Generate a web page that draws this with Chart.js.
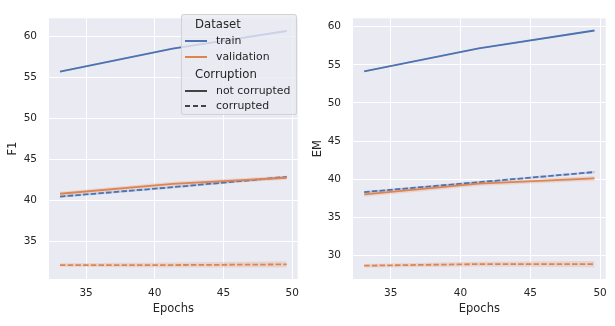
<!DOCTYPE html>
<html><head><meta charset="utf-8">
<script src="https://cdn.jsdelivr.net/npm/chart.js@4.4.1/dist/chart.umd.min.js"></script>
<style>
html,body{margin:0;padding:0;background:#fff;}
body{width:615px;height:326px;overflow:hidden;position:relative;font-family:"DejaVu Sans",sans-serif;}
.box{position:absolute;top:0;height:326px;}
#legend{position:absolute;left:181px;top:14px;width:116px;height:101px;box-sizing:border-box;background:rgba(234,234,242,0.8);border:1px solid rgba(204,204,204,0.8);border-radius:3px;color:#262626;}
#legend .t{position:absolute;font-size:11.7px;line-height:14px;white-space:nowrap;}
#legend .e{position:absolute;font-size:10.9px;line-height:14px;white-space:nowrap;}
#legend .h{position:absolute;height:2px;width:22px;}
</style>
</head><body>
<div class="box" style="left:0;width:307px;"><canvas id="c1" width="307" height="326"></canvas></div>
<div class="box" style="left:307px;width:308px;"><canvas id="c2" width="308" height="326"></canvas></div>
<div id="legend">
  <span class="t" style="left:13px;top:2px;">Dataset</span>
  <div class="h" style="left:3px;top:25px;background:#4C72B0;"></div>
  <span class="e" style="left:34px;top:19px;">train</span>
  <div class="h" style="left:3px;top:41px;background:#DD8452;"></div>
  <span class="e" style="left:34px;top:35px;">validation</span>
  <span class="t" style="left:13px;top:52px;">Corruption</span>
  <div class="h" style="left:3px;top:75px;background:#444;"></div>
  <span class="e" style="left:34px;top:69px;">not corrupted</span>
  <div class="h" style="left:3px;top:90px;background:repeating-linear-gradient(to right,#444 0 5.5px,transparent 5.5px 8px);"></div>
  <span class="e" style="left:34px;top:84px;">corrupted</span>
</div>
<script>
// ---- data ----
const epochs = [33.1, 41.3, 49.6];
const xTicks = [35, 40, 45, 50];
const f1Ticks = [35, 40, 45, 50, 55, 60];
const emTicks = [30, 35, 40, 45, 50, 55, 60];

// F1
const f1TrainClean   = [55.7, 58.5, 60.65];
const f1TrainCleanLo = [55.6, 58.4, 60.55];
const f1TrainCleanHi = [55.8, 58.6, 60.75];
const f1ValClean     = [40.8, 42.0, 42.75];
const f1ValCleanLo   = [40.55, 41.75, 42.5];
const f1ValCleanHi   = [41.05, 42.25, 43.0];
const f1TrainCorr    = [40.45, 41.6, 42.85];
const f1TrainCorrLo  = [40.3, 41.45, 42.7];
const f1TrainCorrHi  = [40.6, 41.75, 43.0];
const f1ValCorr      = [32.1, 32.1, 32.18];
const f1ValCorrLo    = [31.88, 31.8, 31.8];
const f1ValCorrHi    = [32.32, 32.4, 32.56];

// EM
const emTrainClean   = [54.15, 57.15, 59.5];
const emTrainCleanLo = [54.05, 57.05, 59.4];
const emTrainCleanHi = [54.25, 57.25, 59.6];
const emValClean     = [38.0, 39.4, 40.1];
const emValCleanLo   = [37.7, 39.1, 39.8];
const emValCleanHi   = [38.3, 39.7, 40.4];
const emTrainCorr    = [38.3, 39.6, 40.93];
const emTrainCorrLo  = [38.15, 39.45, 40.78];
const emTrainCorrHi  = [38.45, 39.75, 41.08];
const emValCorr      = [28.65, 28.85, 28.85];
const emValCorrLo    = [28.42, 28.55, 28.45];
const emValCorrHi    = [28.88, 29.15, 29.25];

const BLUE = '#4C72B0', ORANGE = '#DD8452';
const BLUE_A = 'rgba(76,114,176,0.2)', ORANGE_A = 'rgba(221,132,82,0.2)';
const DASH = [5.5, 2.2];

function pts(ys){ return epochs.map((x,i)=>({x:x, y:ys[i]})); }

function bandSets(lo, hi, fillColor){
  return [
    {data: pts(lo), borderWidth:0, pointRadius:0, fill:false, order:10, borderColor:'transparent'},
    {data: pts(hi), borderWidth:0, pointRadius:0, fill:'-1', backgroundColor:fillColor, order:10, borderColor:'transparent'}
  ];
}
function lineSet(ys, color, dashed){
  return {data: pts(ys), borderColor: color, borderWidth: 1.8, borderDash: dashed ? DASH : [], pointRadius:0, fill:false, tension:0, order:0};
}

const bgPlugin = {
  id:'bg',
  beforeDraw(chart){
    const {ctx, chartArea:a} = chart;
    ctx.save(); ctx.fillStyle = '#EAEAF2';
    ctx.fillRect(a.left, a.top, a.right-a.left, a.bottom-a.top);
    ctx.restore();
  }
};

function makeChart(id, datasets, yMin, yMax, yTicks, yLabel, axisW, padRight, yTitlePad){
  new Chart(document.getElementById(id), {
    type:'line',
    data:{datasets: datasets},
    plugins:[bgPlugin],
    options:{
      responsive:false, animation:false, devicePixelRatio:1,
      layout:{padding:{left:0, right:padRight, top:8, bottom:0}},
      plugins:{legend:{display:false}, tooltip:{enabled:false}},
      scales:{
        x:{type:'linear', min:32.3, max:50.4,
          afterBuildTicks(s){ s.ticks = xTicks.map(v=>({value:v})); },
          afterFit(s){ s.height = 47; },
          border:{display:false},
          grid:{color:'#ffffff', lineWidth:1, drawTicks:false},
          ticks:{padding:8, color:'#262626', font:{family:'DejaVu Sans', size:10.5}},
          title:{display:true, text:'Epochs', color:'#262626', font:{family:'DejaVu Sans', size:11.5}, padding:{top:0, bottom:10}}
        },
        y:{type:'linear', min:yMin, max:yMax,
          afterBuildTicks(s){ s.ticks = yTicks.map(v=>({value:v})); },
          afterFit(s){ s.width = axisW; },
          border:{display:false},
          grid:{color:'#ffffff', lineWidth:1, drawTicks:false},
          ticks:{padding:12, color:'#262626', font:{family:'DejaVu Sans', size:10.5}},
          title:{display:true, text:yLabel, color:'#262626', font:{family:'DejaVu Sans', size:11.5}, padding:{top:yTitlePad, bottom:0}}
        }
      }
    }
  });
}

makeChart('c1', [
  ...bandSets(f1TrainCleanLo, f1TrainCleanHi, BLUE_A),
  ...bandSets(f1ValCleanLo, f1ValCleanHi, ORANGE_A),
  ...bandSets(f1TrainCorrLo, f1TrainCorrHi, BLUE_A),
  ...bandSets(f1ValCorrLo, f1ValCorrHi, ORANGE_A),
  lineSet(f1TrainClean, BLUE, false),
  lineSet(f1ValClean, ORANGE, false),
  lineSet(f1TrainCorr, BLUE, true),
  lineSet(f1ValCorr, ORANGE, true)
], 30.4, 62.2, f1Ticks, 'F1', 49, 6, 6.4);

makeChart('c2', [
  ...bandSets(emTrainCleanLo, emTrainCleanHi, BLUE_A),
  ...bandSets(emValCleanLo, emValCleanHi, ORANGE_A),
  ...bandSets(emTrainCorrLo, emTrainCorrHi, BLUE_A),
  ...bandSets(emValCorrLo, emValCorrHi, ORANGE_A),
  lineSet(emTrainClean, BLUE, false),
  lineSet(emValClean, ORANGE, false),
  lineSet(emTrainCorr, BLUE, true),
  lineSet(emValCorr, ORANGE, true)
], 26.9, 61.1, emTicks, 'EM', 46, 9, 4.5);
</script>
</body></html>
